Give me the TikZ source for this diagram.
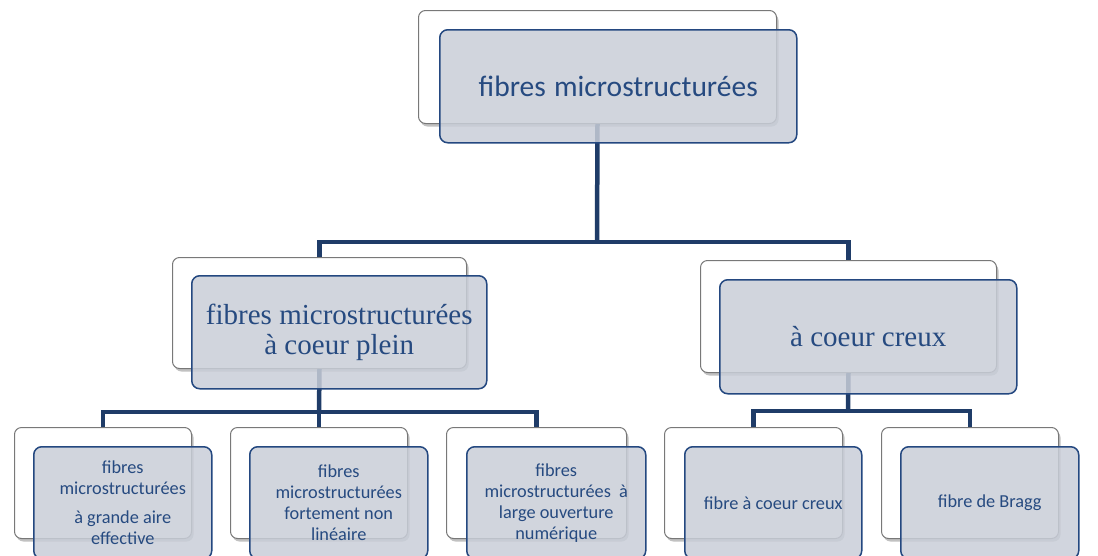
\documentclass[tikz,border=0pt]{standalone}
\usepackage{fontspec}
\setmainfont{Liberation Serif}
\newfontfamily\calib{Carlito}
\usetikzlibrary{shadows}
\definecolor{conncol}{RGB}{31,60,104}
\definecolor{frontfill}{RGB}{201,206,216}
\definecolor{frontdraw}{RGB}{36,72,128}
\definecolor{txtcol}{RGB}{38,74,128}
\definecolor{backdraw}{RGB}{120,120,120}
\begin{document}
\begin{tikzpicture}[x=1pt,y=-1pt,
  backbox/.style={draw=backdraw, line width=1pt, fill=white, rounded corners=7pt,
    anchor=north west, inner sep=0pt,
    drop shadow={shadow xshift=2pt, shadow yshift=-3pt, opacity=0.35, fill=black!70}},
  frontbox/.style={draw=frontdraw, line width=1.5pt, fill=frontfill, fill opacity=0.85,
    text opacity=1, rounded corners=8pt, anchor=north west, inner sep=2pt,
    align=center, text=txtcol},
  conn/.style={draw=conncol, line width=4.5pt, line join=miter},
  bigsans/.style={font=\calib\fontsize{29.5}{34}\selectfont},
  bigserif/.style={font=\fontsize{29}{30}\selectfont},
  smallsans/.style={font=\calib\fontsize{18.3}{21}\selectfont},
]
\useasboundingbox (0,0) rectangle (1098,555);
% back boxes
\node[backbox, minimum width=358pt, minimum height=113pt] (tb) at (418,10) {};
\node[backbox, minimum width=294pt, minimum height=111pt] (lb) at (172,257) {};
\node[backbox, minimum width=296pt, minimum height=112pt] (rb) at (700,260) {};
\node[backbox, minimum width=177pt, minimum height=111pt] (b1) at (14,427) {};
\node[backbox, minimum width=177pt, minimum height=111pt] (b2) at (230,427) {};
\node[backbox, minimum width=180pt, minimum height=111pt] (b3) at (446,427) {};
\node[backbox, minimum width=178pt, minimum height=111pt] (b4) at (664,427) {};
\node[backbox, minimum width=177pt, minimum height=111pt] (b5) at (881,427) {};
% junctions
\coordinate (j1) at (597,242);
\coordinate (j2) at (319,412);
\coordinate (j3) at (848,411);
% connectors
\draw[conn] (tb.south) -- (j1);
\draw[conn] (lb.north) |- (j1) -| (rb.north);
\draw[conn] (lb.south) -- (j2);
\draw[conn] (b1.north) |- (j2) -| (b3.north);
\draw[conn] (j2) -- (b2.north);
\draw[conn] (rb.south) -- (j3);
\draw[conn] (b4.north) |- (j3) -| (b5.north);
% front boxes
\node[frontbox, bigsans, minimum width=357pt, minimum height=113pt] (tf) at (439,29)
  {fibres\hspace{0.05em} microstructurées};
\node[frontbox, bigserif, minimum width=295pt, minimum height=113pt] (lf) at (191,275)
  {fibres microstructurées\\à coeur plein};
\node[frontbox, bigserif, minimum width=297pt, minimum height=114pt] (rf) at (719,279)
  {à coeur creux};
\node[frontbox, smallsans, minimum width=178pt, minimum height=112pt] (f1) at (33,446)
  {fibres\\microstructurées\\[8pt]à grande aire\\effective};
\node[frontbox, smallsans, minimum width=178pt, minimum height=112pt] (f2) at (249,446)
  {fibres\\microstructurées\\fortement non\\linéaire};
\node[frontbox, smallsans, minimum width=179pt, minimum height=112pt] (f3) at (466,446)
  {fibres\\microstructurées\ \ à\\large ouverture\\numérique};
\node[frontbox, smallsans, minimum width=177pt, minimum height=112pt] (f4) at (684,446)
  {fibre à coeur creux};
\node[frontbox, smallsans, minimum width=178pt, minimum height=112pt] (f5) at (900,446)
  {fibre de Bragg};
\end{tikzpicture}
\end{document}
